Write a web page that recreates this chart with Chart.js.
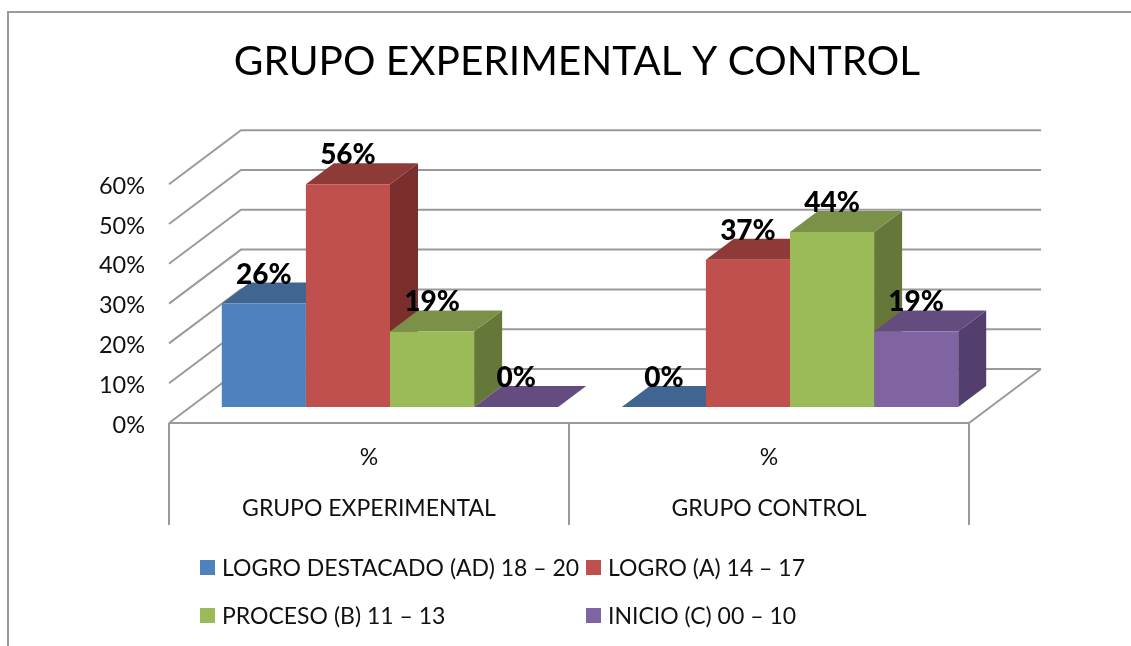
<!DOCTYPE html>
<html>
<head>
<meta charset="utf-8">
<title>Grupo experimental y control</title>
<script src="https://cdn.jsdelivr.net/npm/chart.js@4/dist/chart.umd.min.js"></script>
<style>
  html, body { margin: 0; padding: 0; background: #fff; overflow: hidden; }
  #grafico { position: absolute; left: 0; top: 0; }
</style>
</head>
<body>
<canvas id="grafico" width="1131" height="646"></canvas>
<script>
var titulo = 'GRUPO EXPERIMENTAL Y CONTROL';
var categorias = ['%', '%'];
var grupos = ['GRUPO EXPERIMENTAL', 'GRUPO CONTROL'];
var yTicks = ['0%', '10%', '20%', '30%', '40%', '50%', '60%'];

var nombres = ['LOGRO DESTACADO (AD) 18 – 20', 'LOGRO (A) 14 – 17', 'PROCESO (B) 11 – 13', 'INICIO (C) 00 – 10'];
var logroDestacado = [26, 0];
var logro = [56, 37];
var proceso = [19, 44];
var inicio = [0, 19];

var frente = ['#4F81BD', '#C0504D', '#9BBB59', '#8064A2'];
var arriba = ['#3F6590', '#8E3A38', '#7A9147', '#644C80'];
var lado = ['#33547A', '#7B2F2D', '#65783A', '#533F6E'];

var FUENTE = 'Lato, Carlito, "Open Sans", sans-serif';
var GRIS = '#9a9a9a';

// profundidad de la pared y de las barras
var PARED = { dx: 72, dy: -54 };
var BASE = { dx: 21, dy: -16 };
var FONDO = { dx: 28, dy: -21 };

function poly(ctx, pts, color) {
    ctx.beginPath();
    ctx.moveTo(pts[0][0], pts[0][1]);
    for (var i = 1; i < pts.length; i++) ctx.lineTo(pts[i][0], pts[i][1]);
    ctx.closePath();
    ctx.fillStyle = color;
    ctx.fill();
}

var efecto3d = {
    id: 'efecto3d',
    afterLayout: function (chart) {
        // el titulo no va centrado en el lienzo
        chart.titleBlock.left = 0;
        chart.titleBlock.right = 1154;
    },
    beforeDraw: function (chart) {
        var ctx = chart.ctx;
        ctx.save();
        ctx.strokeStyle = GRIS;
        ctx.lineWidth = 2;
        ctx.beginPath();
        ctx.moveTo(8, 646);
        ctx.lineTo(8, 12);
        ctx.lineTo(1131, 12);
        ctx.stroke();
        ctx.restore();
    },
    beforeDatasetsDraw: function (chart) {
        var ctx = chart.ctx, x = chart.scales.x, y = chart.scales.y;
        var izq = x.left, der = x.right;
        ctx.save();
        ctx.strokeStyle = GRIS;
        ctx.lineWidth = 2;

        // lineas de la pared izquierda y del fondo
        y.ticks.forEach(function (t) {
            var py = y.getPixelForValue(t.value);
            ctx.beginPath();
            ctx.moveTo(izq, py);
            ctx.lineTo(izq + PARED.dx, py + PARED.dy);
            ctx.lineTo(der + PARED.dx, py + PARED.dy);
            ctx.stroke();
        });

        // piso
        var y0 = y.getPixelForValue(0);
        ctx.beginPath();
        ctx.moveTo(izq, y0);
        ctx.lineTo(der, y0);
        ctx.lineTo(der + PARED.dx, y0 + PARED.dy);
        ctx.stroke();

        // separadores del eje x
        for (var c = 0; c <= categorias.length; c++) {
            var px = x.getPixelForValue(c - 0.5);
            ctx.beginPath();
            ctx.moveTo(px, y0);
            ctx.lineTo(px, y0 + 102);
            ctx.stroke();
        }
        ctx.restore();

        // caras superior y lateral de cada barra, de izquierda a derecha
        for (var g = 0; g < categorias.length; g++) {
            chart.data.datasets.forEach(function (ds, d) {
                var el = chart.getDatasetMeta(d).data[g];
                var p = el.getProps(['x', 'y', 'base', 'width'], true);
                var a = p.x - p.width / 2 + BASE.dx, b = p.x + p.width / 2 + BASE.dx;
                var t = p.y + BASE.dy, s = p.base + BASE.dy;
                poly(ctx, [[b, t], [b + FONDO.dx, t + FONDO.dy], [b + FONDO.dx, s + FONDO.dy], [b, s]], lado[d]);
                poly(ctx, [[a, t], [a + FONDO.dx, t + FONDO.dy], [b + FONDO.dx, t + FONDO.dy], [b, t]], arriba[d]);
            });
        }

        ctx.save();
        ctx.translate(BASE.dx, BASE.dy);
    },
    afterDatasetsDraw: function (chart) {
        var ctx = chart.ctx;
        ctx.restore();

        // etiquetas de datos
        ctx.save();
        ctx.font = '900 28px ' + FUENTE;
        ctx.fillStyle = '#000';
        ctx.textAlign = 'center';
        ctx.textBaseline = 'middle';
        chart.data.datasets.forEach(function (ds, d) {
            chart.getDatasetMeta(d).data.forEach(function (el, i) {
                ctx.fillText(ds.data[i] + '%', el.x + BASE.dx, el.y + BASE.dy - 29);
            });
        });
        ctx.restore();

        // leyenda en dos columnas
        var colX = [200, 586], filaY = [567.5, 615.5];
        ctx.save();
        ctx.font = '23px ' + FUENTE;
        ctx.textBaseline = 'middle';
        nombres.forEach(function (n, i) {
            var cx = colX[i % 2], cy = filaY[Math.floor(i / 2)];
            ctx.fillStyle = frente[i];
            ctx.fillRect(cx, cy - 7.5, 15, 15);
            ctx.fillStyle = '#111';
            ctx.fillText(n, cx + 22, cy + 1);
        });
        ctx.restore();
    }
};

new Chart(document.getElementById('grafico'), {
    type: 'bar',
    data: {
        labels: categorias.map(function (c, i) { return [c, grupos[i]]; }),
        datasets: [
            { label: nombres[0], data: logroDestacado, backgroundColor: frente[0] },
            { label: nombres[1], data: logro, backgroundColor: frente[1] },
            { label: nombres[2], data: proceso, backgroundColor: frente[2] },
            { label: nombres[3], data: inicio, backgroundColor: frente[3] }
        ]
    },
    plugins: [efecto3d],
    options: {
        responsive: false,
        animation: false,
        layout: { padding: { left: 0, right: 162, top: 0, bottom: 0 } },
        datasets: { bar: { barPercentage: 1, categoryPercentage: 0.841 } },
        plugins: {
            legend: { display: false },
            tooltip: { enabled: false },
            title: {
                display: true,
                text: titulo,
                color: '#000',
                font: { family: FUENTE, size: 40.6, weight: 'normal' },
                padding: { top: 38, bottom: 97.5 }
            }
        },
        scales: {
            x: {
                grid: { display: false },
                border: { display: false },
                ticks: {
                    autoSkip: false,
                    maxRotation: 0,
                    padding: 1,
                    color: '#111',
                    font: { family: FUENTE, size: 23, lineHeight: 2.217 }
                },
                afterFit: function (s) { s.height = 223; }
            },
            y: {
                min: 0,
                max: 60,
                grid: { display: false },
                border: { display: false },
                ticks: {
                    stepSize: 10,
                    padding: 16,
                    labelOffset: 2,
                    color: '#111',
                    font: { family: FUENTE, size: 23.5 },
                    callback: function (v, i) { return yTicks[i]; }
                },
                afterFit: function (s) { s.width = 169; }
            }
        }
    }
});
</script>
</body>
</html>
